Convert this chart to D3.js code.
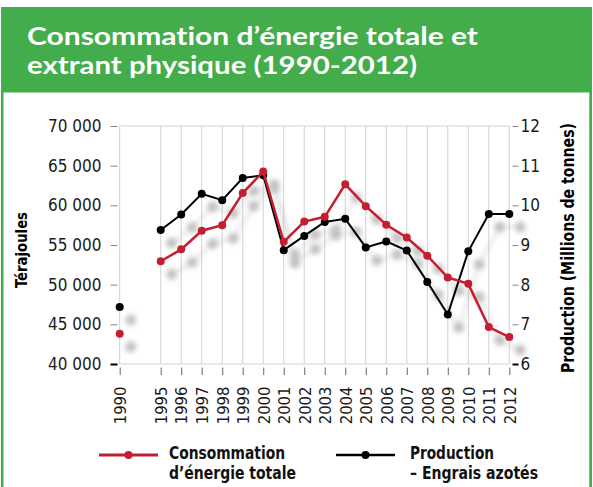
<!DOCTYPE html>
<html>
<head>
<meta charset="utf-8">
<script src="https://cdn.jsdelivr.net/npm/d3@7"></script>
<style>
  body { margin: 0; background: #fff; }
  svg text { font-family: "Liberation Sans Narrow", "DejaVu Sans Condensed", "Liberation Sans", sans-serif; }
  .title { font-family: "Lato", "Open Sans", sans-serif !important; font-weight: 700; fill: #fff;
    font-variant-ligatures: none; font-feature-settings: "liga" 0, "clig" 0; }
</style>
</head>
<body>
<svg id="chart" width="593" height="487"></svg>
<script>
const years = [1990, 1995, 1996, 1997, 1998, 1999, 2000, 2001, 2002, 2003,
  2004, 2005, 2006, 2007, 2008, 2009, 2010, 2011, 2012];
// Terajoules (left axis)
const energy = [43800, 52950, 54450, 56800, 57500, 61550, 64250, 55400, 57950, 58550,
  62650, 59900, 57550, 55950, 53650, 50900, 50100, 44650, 43400];
// Millions de tonnes (right axis)
const production = [7.44, 9.38, 9.77, 10.29, 10.13, 10.69, 10.76, 8.87, 9.23, 9.58,
  9.66, 8.94, 9.09, 8.86, 8.07, 7.25, 8.84, 9.78, 9.78];
const energyTicks = [40000, 45000, 50000, 55000, 60000, 65000, 70000];
const productionTicks = [6, 7, 8, 9, 10, 11, 12];

const red = "#c41f30";
const green = "#43ad4b";
const grid = "#d2d2d2";

const svg = d3.select("#chart");

// frame + header
svg.append("rect").attr("x", 1).attr("y", 7).attr("width", 591).attr("height", 490).attr("fill", green);
svg.append("rect").attr("x", 3.5).attr("y", 92.5).attr("width", 585.8).attr("height", 400).attr("fill", "#fff");

const titleLines = [
  { t: "Consommation d\u2019\u00e9nergie totale et", y: 44.5, w: 451 },
  { t: "extrant physique (1990-2012)", y: 73.5, w: 390 }
];
titleLines.forEach(l => {
  svg.append("text").attr("class", "title")
    .attr("x", 27).attr("y", l.y)
    .attr("font-size", 24)
    .attr("textLength", l.w).attr("lengthAdjust", "spacingAndGlyphs")
    .text(l.t);
});

// scales: the gap between 1990 and 1995 takes one empty slot
const slots = ["1990", "gap", ...years.slice(1).map(String)];
const x = d3.scalePoint().domain(slots).range([119.7, 509.3]);
const yL = d3.scaleLinear().domain([40000, 70000]).range([364, 126]);
const yR = d3.scaleLinear().domain([6, 12]).range([364, 126]);

const fmt = d3.formatLocale({ decimal: ",", thousands: " ", grouping: [3], currency: ["", ""] }).format(",");

// grid
const g = svg.append("g");
g.selectAll(".vgrid").data(years).join("line")
  .attr("x1", d => x(String(d))).attr("x2", d => x(String(d)))
  .attr("y1", 126).attr("y2", 364)
  .attr("stroke", grid).attr("stroke-width", 1);
[126, 364].forEach(yy => {
  g.append("line").attr("x1", 119.7).attr("x2", 509.3).attr("y1", yy).attr("y2", yy)
    .attr("stroke", grid).attr("stroke-width", 1);
});

// shadows
const defs = svg.append("defs");
defs.append("filter").attr("id", "blur").attr("x", "-50%").attr("y", "-50%").attr("width", "200%").attr("height", "200%")
  .append("feGaussianBlur").attr("stdDeviation", 2.8);

const eData = years.map((yr, i) => ({ k: String(yr), v: energy[i] }));
const pData = years.map((yr, i) => ({ k: String(yr), v: production[i] }));

const lineL = d3.line().x(d => x(d.k)).y(d => yL(d.v));
const lineR = d3.line().x(d => x(d.k)).y(d => yR(d.v));

const shadow = svg.append("g").attr("transform", "translate(11,13)")
  .attr("filter", "url(#blur)").attr("opacity", 0.4);
shadow.append("path").datum(eData.slice(1)).attr("d", lineL).attr("fill", "none").attr("stroke", "#999").attr("stroke-width", 2);
shadow.append("path").datum(pData.slice(1)).attr("d", lineR).attr("fill", "none").attr("stroke", "#999").attr("stroke-width", 2);
shadow.selectAll(".se").data(eData).join("circle").attr("cx", d => x(d.k)).attr("cy", d => yL(d.v)).attr("r", 5.5).attr("fill", "#666");
shadow.selectAll(".sp").data(pData).join("circle").attr("cx", d => x(d.k)).attr("cy", d => yR(d.v)).attr("r", 5.5).attr("fill", "#666");

// axes
const axL = svg.append("g").attr("transform", "translate(117.5,0)")
  .call(d3.axisLeft(yL).tickValues(energyTicks).tickFormat(fmt).tickSize(7).tickPadding(9));
axL.select(".domain").remove();
axL.selectAll("line").attr("stroke", "#888");
axL.selectAll(".tick").filter(d => d === 40000).select("line").attr("stroke", "#000").attr("stroke-width", 2);
axL.selectAll("text").attr("font-size", 17).attr("fill", "#1a1a1a");

const axR = svg.append("g").attr("transform", "translate(512.5,0)")
  .call(d3.axisRight(yR).tickValues(productionTicks).tickFormat(d3.format("d")).tickSize(6).tickPadding(2));
axR.select(".domain").remove();
axR.selectAll("line").attr("stroke", "#888");
axR.selectAll(".tick").filter(d => d === 6).select("line").attr("stroke", "#000").attr("stroke-width", 2);
axR.selectAll("text").attr("font-size", 17).attr("fill", "#1a1a1a");

const axX = svg.append("g").attr("transform", "translate(0,367.5)")
  .call(d3.axisBottom(x).tickValues(years.map(String)).tickSize(7.5).tickPadding(0));
axX.select(".domain").remove();
axX.selectAll("line").attr("stroke", "#666");
axX.selectAll("text")
  .attr("transform", "rotate(-90)")
  .attr("x", -19).attr("y", 0).attr("dy", "0.35em")
  .attr("text-anchor", "end")
  .attr("font-size", 16.5).attr("fill", "#1a1a1a");

svg.selectAll(".tick text").style("font-family", "\"Liberation Sans Narrow\", \"DejaVu Sans Condensed\", \"Liberation Sans\", sans-serif");

// axis titles
svg.append("text").attr("transform", "translate(27,250) rotate(-90)")
  .attr("text-anchor", "middle").attr("font-weight", 700).attr("font-size", 16)
  .attr("textLength", 76).attr("lengthAdjust", "spacingAndGlyphs")
  .text("T\u00e9rajoules");
svg.append("text").attr("transform", "translate(574,248) rotate(-90)")
  .attr("text-anchor", "middle").attr("font-weight", 700).attr("font-size", 17)
  .attr("textLength", 250).attr("lengthAdjust", "spacingAndGlyphs")
  .text("Production (Millions de tonnes)");

// series
svg.append("path").datum(pData.slice(1)).attr("d", lineR)
  .attr("fill", "none").attr("stroke", "#000").attr("stroke-width", 2);
svg.selectAll(".pdot").data(pData).join("circle")
  .attr("cx", d => x(d.k)).attr("cy", d => yR(d.v)).attr("r", 4).attr("fill", "#000");
svg.append("path").datum(eData.slice(1)).attr("d", lineL)
  .attr("fill", "none").attr("stroke", red).attr("stroke-width", 2.5);
svg.selectAll(".edot").data(eData).join("circle")
  .attr("cx", d => x(d.k)).attr("cy", d => yL(d.v)).attr("r", 4).attr("fill", red);

// legend
const legend = [
  { color: red, x0: 99, x1: 158, lines: ["Consommation", "d\u2019\u00e9nergie totale"], tx: 169, widths: [116, 127] },
  { color: "#000", x0: 336, x1: 395, lines: ["Production", "\u2013 Engrais azot\u00e9s"], tx: 410, widths: [84, 128] }
];
legend.forEach(l => {
  svg.append("line").attr("x1", l.x0).attr("x2", l.x1).attr("y1", 455).attr("y2", 455)
    .attr("stroke", l.color).attr("stroke-width", l.color === red ? 3 : 2.5);
  svg.append("circle").attr("cx", (l.x0 + l.x1) / 2).attr("cy", 455).attr("r", 4).attr("fill", l.color);
  l.lines.forEach((s, i) => {
    svg.append("text").attr("x", l.tx).attr("y", 459 + i * 20)
      .attr("font-weight", 700).attr("font-size", 18).attr("fill", "#111")
      .attr("textLength", l.widths[i]).attr("lengthAdjust", "spacingAndGlyphs")
      .text(s);
  });
});
</script>
</body>
</html>
